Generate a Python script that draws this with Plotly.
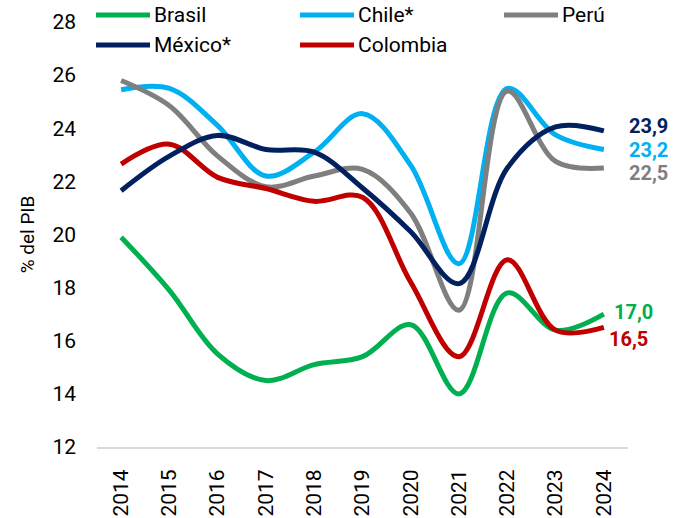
import plotly.graph_objects as go

# Tax revenue as % of GDP, 2014-2024
years = ["2014", "2015", "2016", "2017", "2018", "2019", "2020", "2021", "2022", "2023", "2024"]
brasil = [19.9, 17.9, 15.5, 14.5, 15.1, 15.4, 16.6, 14.0, 17.8, 16.4, 17.0]
chile = [25.45, 25.5, 24.1, 22.2, 23.1, 24.55, 22.6, 18.9, 25.5, 23.75, 23.2]
peru = [25.8, 24.85, 22.95, 21.8, 22.2, 22.45, 20.8, 17.15, 25.4, 22.75, 22.5]
mexico = [21.65, 22.95, 23.73, 23.2, 23.1, 21.75, 20.1, 18.15, 22.5, 24.05, 23.9]
colombia = [22.65, 23.4, 22.15, 21.73, 21.25, 21.4, 18.2, 15.4, 19.05, 16.4, 16.5]

y_ticks = [12, 14, 16, 18, 20, 22, 24, 26, 28]

names = ["Brasil", "Chile*", "Perú", "México*", "Colombia"]
values = [brasil, chile, peru, mexico, colombia]
colors = ["#00B050", "#00B0F0", "#7F7F7F", "#002060", "#C00000"]
draw_order = [0, 1, 2, 4, 3]

FONT = "Roboto"
W, H = 687, 518
L, R, T, B = 97, 59, 22, 71
PW, PH = W - L - R, H - T - B


def paper_x(px):
    return (px - L) / PW


def paper_y(py):
    return (H - B - py) / PH


fig = go.Figure()
for i in draw_order:
    fig.add_trace(go.Scatter(
        x=years, y=values[i], name=names[i], mode="lines",
        line=dict(color=colors[i], width=5, shape="spline", smoothing=1),
        showlegend=False, hoverinfo="x+y+name",
    ))

# End-of-line value labels (x/y pixel nudges keep stacked labels apart)
label_offsets = {
    "México*": (24, 5),
    "Chile*": (24, 0),
    "Perú": (24, -5),
    "Brasil": (9, 2),
    "Colombia": (4, -12),
}
last_index = len(years) - 1
annotations = []
for name, vals, col in zip(names, values, colors):
    dx, dy = label_offsets[name]
    annotations.append(dict(
        x=last_index, y=vals[-1], xref="x", yref="y",
        text="<b>%s</b>" % f"{vals[-1]:.1f}".replace(".", ","),
        showarrow=False, xanchor="left", yanchor="middle",
        xshift=dx, yshift=dy, borderpad=0,
        font=dict(family=FONT, size=20, color=col),
    ))

# Legend drawn as short thick strokes with labels, three per row
shapes = []
legend_cols = [96, 300, 504]
legend_rows = [15, 45]
for k, (name, col) in enumerate(zip(names, colors)):
    x0 = legend_cols[k % 3]
    yy = legend_rows[k // 3]
    shapes.append(dict(
        type="line", xref="paper", yref="paper",
        x0=paper_x(x0), x1=paper_x(x0 + 54), y0=paper_y(yy), y1=paper_y(yy),
        line=dict(color=col, width=5),
    ))
    annotations.append(dict(
        x=paper_x(x0 + 56), y=paper_y(yy), xref="paper", yref="paper",
        text=name, showarrow=False, xanchor="left", yanchor="middle",
        font=dict(family=FONT, size=21, color="#000000"),
    ))

fig.update_layout(
    width=W, height=H,
    margin=dict(l=L, r=R, t=T, b=B, pad=0),
    paper_bgcolor="white", plot_bgcolor="white",
    font=dict(family=FONT, size=21, color="#000000"),
    showlegend=False,
    annotations=annotations,
    shapes=shapes,
    xaxis=dict(
        type="category", range=[-0.5, len(years) - 0.5],
        showgrid=False, zeroline=False, automargin=False,
        showline=True, linecolor="#D9D9D9", linewidth=2,
        ticks="", tickangle=-90, ticklabelstandoff=12,
        tickfont=dict(family=FONT, size=21, color="#000000"),
    ),
    yaxis=dict(
        range=[12, 28], tickvals=y_ticks,
        showgrid=False, zeroline=False, showline=False, automargin=False,
        ticks="", ticklabelstandoff=20,
        tickfont=dict(family=FONT, size=21, color="#000000"),
        title=dict(text="% del PIB", standoff=12,
                   font=dict(family=FONT, size=19, color="#000000")),
    ),
)

fig.write_html("out.html")
